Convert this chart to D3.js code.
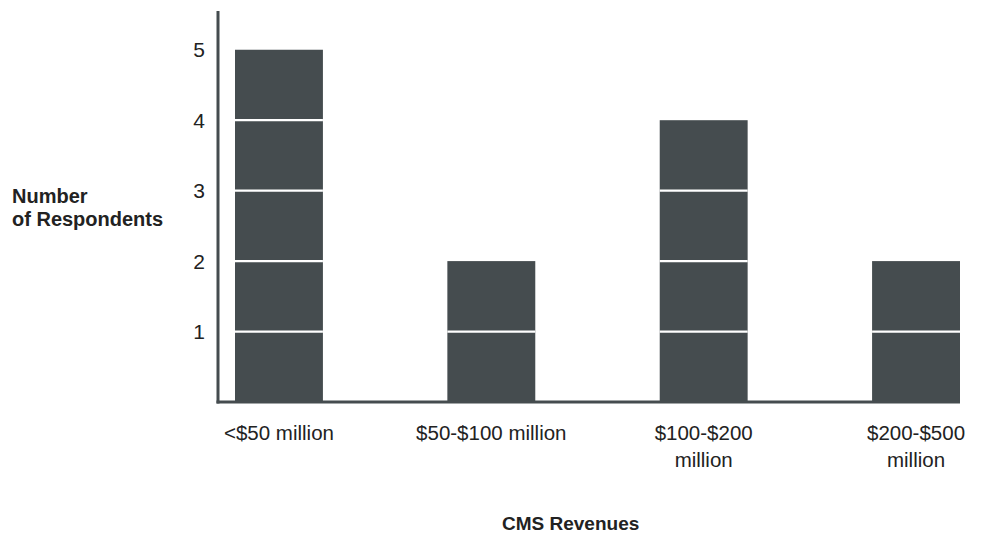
<!DOCTYPE html>
<html>
<head>
<meta charset="utf-8">
<script src="https://cdn.jsdelivr.net/npm/d3@7"></script>
<style>
  html, body { margin: 0; padding: 0; background: #fff; }
  svg { display: block; font-family: "Liberation Sans", Arial, Helvetica, sans-serif; }
</style>
</head>
<body>
<svg id="chart" width="983" height="533"></svg>
<script>
// Respondents by CMS revenue band
const categories = ["<$50 million", "$50-$100 million", "$100-$200 million", "$200-$500 million"];
const labelLines = [["<$50 million"], ["$50-$100 million"], ["$100-$200", "million"], ["$200-$500", "million"]];
const respondents = [5, 2, 4, 2];
const yTicks = [1, 2, 3, 4, 5];

const svg = d3.select("#chart");
const ink = "#454c4f";
const textColor = "#222";

const x = d3.scaleBand().domain(categories).range([235, 960]).paddingInner(0.586).paddingOuter(0);
const y = d3.scaleLinear().domain([0, 5.55]).range([402, 11]);

// bars, split into one-unit blocks by thin white rules
const bars = svg.append("g");
categories.forEach((c, i) => {
  const v = respondents[i];
  bars.append("rect")
    .attr("x", x(c)).attr("width", x.bandwidth())
    .attr("y", y(v)).attr("height", y(0) - y(v))
    .attr("fill", ink);
  d3.range(1, v).forEach(k => {
    bars.append("line")
      .attr("x1", x(c)).attr("x2", x(c) + x.bandwidth())
      .attr("y1", y(k)).attr("y2", y(k))
      .attr("stroke", "#fff").attr("stroke-width", 2.2);
  });
});

// axes lines
svg.append("line")
  .attr("x1", 218).attr("x2", 218)
  .attr("y1", y.range()[1]).attr("y2", y(0) + 1.5)
  .attr("stroke", ink).attr("stroke-width", 3);
svg.append("line")
  .attr("x1", 216.5).attr("x2", x.range()[1])
  .attr("y1", y(0)).attr("y2", y(0))
  .attr("stroke", ink).attr("stroke-width", 3);

// y tick labels
svg.append("g").selectAll("text").data(yTicks).join("text")
  .attr("x", 205).attr("y", d => y(d) + 7.5)
  .attr("text-anchor", "end")
  .attr("font-size", 21).attr("fill", textColor)
  .text(d => d);

// category labels
const xl = svg.append("g");
categories.forEach((c, i) => {
  const cx = x(c) + x.bandwidth() / 2;
  const t = xl.append("text")
    .attr("x", cx).attr("y", 439.5)
    .attr("text-anchor", "middle")
    .attr("font-size", 20.5).attr("fill", textColor);
  labelLines[i].forEach((line, j) => {
    t.append("tspan").attr("x", cx).attr("dy", j === 0 ? 0 : 27).text(line);
  });
});

// axis titles
const yt = svg.append("text")
  .attr("x", 12).attr("y", 202.5)
  .attr("font-size", 20).attr("font-weight", "bold").attr("fill", textColor);
yt.append("tspan").attr("x", 12).text("Number");
yt.append("tspan").attr("x", 12).attr("dy", 23.5).text("of Respondents");

svg.append("text")
  .attr("x", 502).attr("y", 530)
  .attr("font-size", 19).attr("font-weight", "bold").attr("fill", textColor)
  .text("CMS Revenues");
</script>
</body>
</html>
